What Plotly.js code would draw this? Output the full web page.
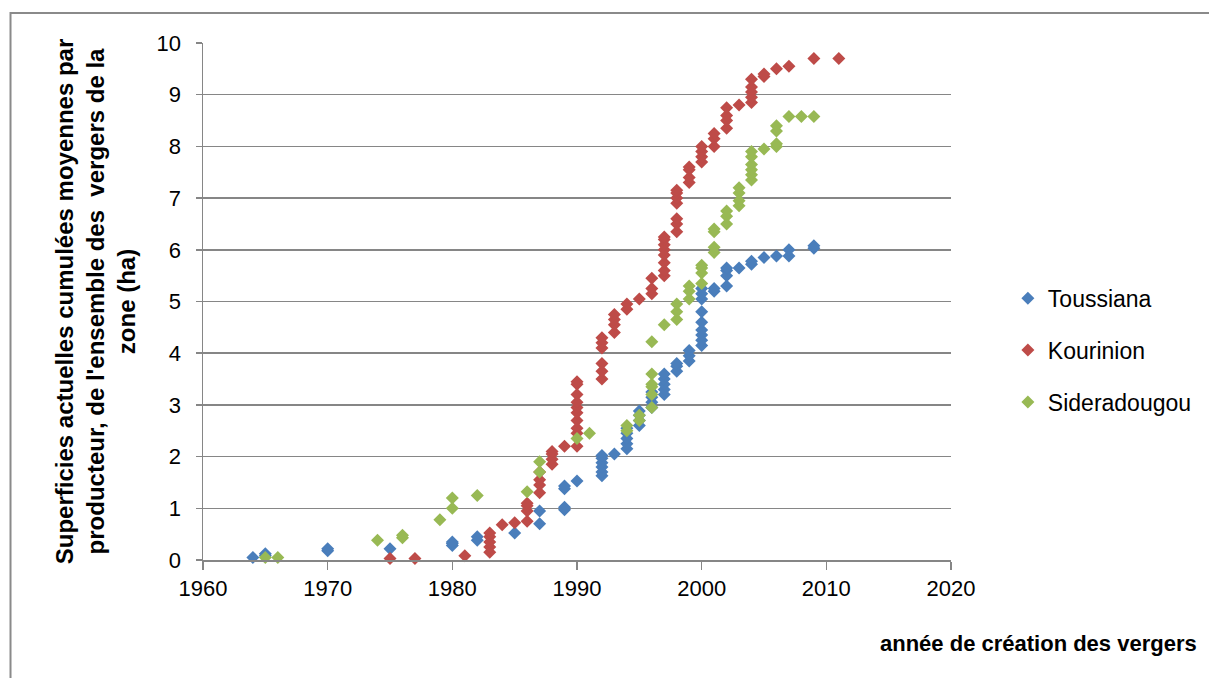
<!DOCTYPE html>
<html>
<head>
<meta charset="utf-8">
<script src="https://cdn.plot.ly/plotly-3.0.1.min.js"></script>
<style>
html,body{margin:0;padding:0;background:#fff;overflow:hidden;}
#chart{width:1209px;height:678px;}
</style>
</head>
<body>
<div id="chart"></div>
<script>
// Toussiana
const toussianaYears = [1964,1965,1965,1970,1970,1975,1980,1980,1980,1982,1982,1985,1987,1987,
  1989,1989,1989,1989,1990,1992,1992,1992,1992,1992,1992,1993,1994,1994,1994,1994,1994,
  1995,1995,1995,1995,1996,1996,1996,1996,1997,1997,1997,1997,1997,1998,1998,1998,
  1999,1999,1999,2000,2000,2000,2000,2000,2000,2000,2000,2000,2001,2001,
  2002,2002,2002,2002,2003,2004,2004,2005,2006,2007,2007,2009,2009];
const toussianaValues = [0.05,0.08,0.12,0.18,0.22,0.22,0.28,0.32,0.35,0.38,0.45,0.52,0.70,0.95,
  0.97,1.02,1.38,1.43,1.53,1.63,1.70,1.80,1.88,1.97,2.02,2.05,2.15,2.25,2.35,2.45,2.55,
  2.60,2.70,2.80,2.88,2.95,3.05,3.15,3.25,3.20,3.30,3.40,3.50,3.60,3.65,3.75,3.80,
  3.85,3.95,4.05,4.15,4.25,4.35,4.45,4.60,4.80,5.05,5.15,5.25,5.20,5.25,
  5.30,5.50,5.60,5.65,5.65,5.72,5.78,5.85,5.88,5.88,6.00,6.03,6.08];

// Kourinion
const kourinionYears = [1975,1977,1981,1983,1983,1983,1983,1983,1984,1985,1986,1986,1986,1986,
  1987,1987,1987,1987,1988,1988,1988,1988,1989,
  1990,1990,1990,1990,1990,1990,1990,1990,1990,1990,
  1992,1992,1992,1992,1992,1992,1993,1993,1993,1993,1994,1994,1995,1996,1996,1996,
  1997,1997,1997,1997,1997,1997,1997,1997,1998,1998,1998,1998,1998,1998,1998,
  1999,1999,1999,1999,2000,2000,2000,2000,2001,2001,2001,2002,2002,2002,2002,2003,
  2004,2004,2004,2004,2004,2005,2005,2006,2007,2009,2011];
const kourinionValues = [0.03,0.03,0.08,0.15,0.25,0.35,0.45,0.52,0.68,0.72,0.75,0.95,1.05,1.10,
  1.30,1.45,1.55,1.70,1.85,1.95,2.05,2.10,2.20,
  2.20,2.45,2.55,2.70,2.85,2.95,3.05,3.20,3.40,3.45,
  3.50,3.65,3.80,4.10,4.20,4.30,4.40,4.55,4.65,4.75,4.85,4.95,5.05,5.15,5.25,5.45,
  5.50,5.60,5.75,5.90,6.00,6.10,6.20,6.25,6.35,6.50,6.60,6.90,7.00,7.10,7.15,
  7.30,7.40,7.55,7.60,7.70,7.80,7.90,8.00,8.00,8.15,8.25,8.35,8.50,8.60,8.75,8.80,
  8.85,8.95,9.05,9.15,9.30,9.35,9.40,9.50,9.55,9.70,9.70];

// Sideradougou
const sideradougouYears = [1965,1966,1974,1976,1976,1979,1980,1980,1982,1986,1987,1987,1990,1991,
  1994,1994,1995,1995,1996,1996,1996,1996,1996,1996,1997,1998,1998,1998,1999,1999,1999,
  2000,2000,2000,2000,2001,2001,2001,2001,2002,2002,2002,2003,2003,2003,2003,
  2004,2004,2004,2004,2004,2004,2005,2006,2006,2006,2006,2007,2008,2009];
const sideradougouValues = [0.05,0.05,0.38,0.43,0.48,0.78,1.00,1.20,1.25,1.32,1.70,1.90,2.35,2.45,
  2.50,2.60,2.70,2.80,2.95,3.20,3.35,3.40,3.60,4.22,4.55,4.65,4.80,4.95,5.05,5.20,5.30,
  5.35,5.55,5.65,5.70,5.95,6.05,6.35,6.40,6.50,6.65,6.75,6.85,6.95,7.10,7.20,
  7.35,7.45,7.55,7.65,7.80,7.90,7.95,8.00,8.05,8.30,8.40,8.58,8.58,8.58];

const seriesNames = ["Toussiana","Kourinion","Sideradougou"];
const xTickVals = [1960,1970,1980,1990,2000,2010,2020];
const yTickVals = [0,1,2,3,4,5,6,7,8,9,10];

const colors = ["#4A7EBB","#BE4B48","#98B954"];
const xs = [toussianaYears, kourinionYears, sideradougouYears];
const ys = [toussianaValues, kourinionValues, sideradougouValues];

const traces = seriesNames.map((n,i)=>({
  type:"scatter", mode:"markers", name:n, x:xs[i], y:ys[i],
  legendgroup:"g"+i,
  marker:{symbol:"diamond", size:10, color:colors[i], line:{width:0}},
  cliponaxis:false
}));

const FONT = "'Liberation Sans', Arial, sans-serif";
const gridCol = "#868686";

const layout = {
  width:1209, height:678,
  margin:{l:203, r:256, t:43, b:118, pad:0},
  paper_bgcolor:"#fff", plot_bgcolor:"#fff",
  font:{family:FONT, color:"#000"},
  showlegend:true,
  legend:{x:1.076, y:0.548, xanchor:"left", yanchor:"top",
    font:{family:FONT, size:23, color:"#000"}, tracegroupgap:19, traceorder:"grouped",
    bgcolor:"rgba(0,0,0,0)"},
  xaxis:{range:[1960,2020], tickvals:xTickVals, ticktext:xTickVals.map(String),
    showgrid:false, zeroline:false, showline:true, linecolor:gridCol, linewidth:1.5,
    ticks:"outside", ticklen:8, tickcolor:gridCol, tickwidth:1.5,
    tickfont:{family:FONT, size:22, color:"#000"}},
  yaxis:{range:[0,10], tickvals:yTickVals, ticktext:yTickVals.map(String),
    showgrid:true, gridcolor:gridCol, gridwidth:1.5, zeroline:false,
    showline:true, linecolor:gridCol, linewidth:1.5,
    ticks:"outside", ticklen:6, tickcolor:gridCol, tickwidth:1.5,
    ticklabelstandoff:10,
    tickfont:{family:FONT, size:22, color:"#000"},
    title:{text:"Superficies actuelles cumulées moyennes par<br>producteur, de l'ensemble des  vergers de la<br>zone (ha)",
      font:{family:FONT, size:24, color:"#000", weight:"bold"}, standoff:14}},
  annotations:[{xref:"paper", yref:"paper", x:(880-203)/750, y:(560-643)/517,
    xanchor:"left", yanchor:"middle", showarrow:false,
    text:"<b>année de création des vergers</b>",
    font:{family:FONT, size:22, color:"#000"}}],
  shapes:[{type:"path", xref:"paper", yref:"paper",
    path:"M "+((10-203)/750)+" "+(-0.5)+" L "+((10-203)/750)+" "+((560-13)/517)+" L 1.6 "+((560-13)/517),
    line:{color:"#8a8a8a", width:2}}]
};

Plotly.newPlot("chart", traces, layout, {staticPlot:true, displayModeBar:false});
</script>
</body>
</html>
